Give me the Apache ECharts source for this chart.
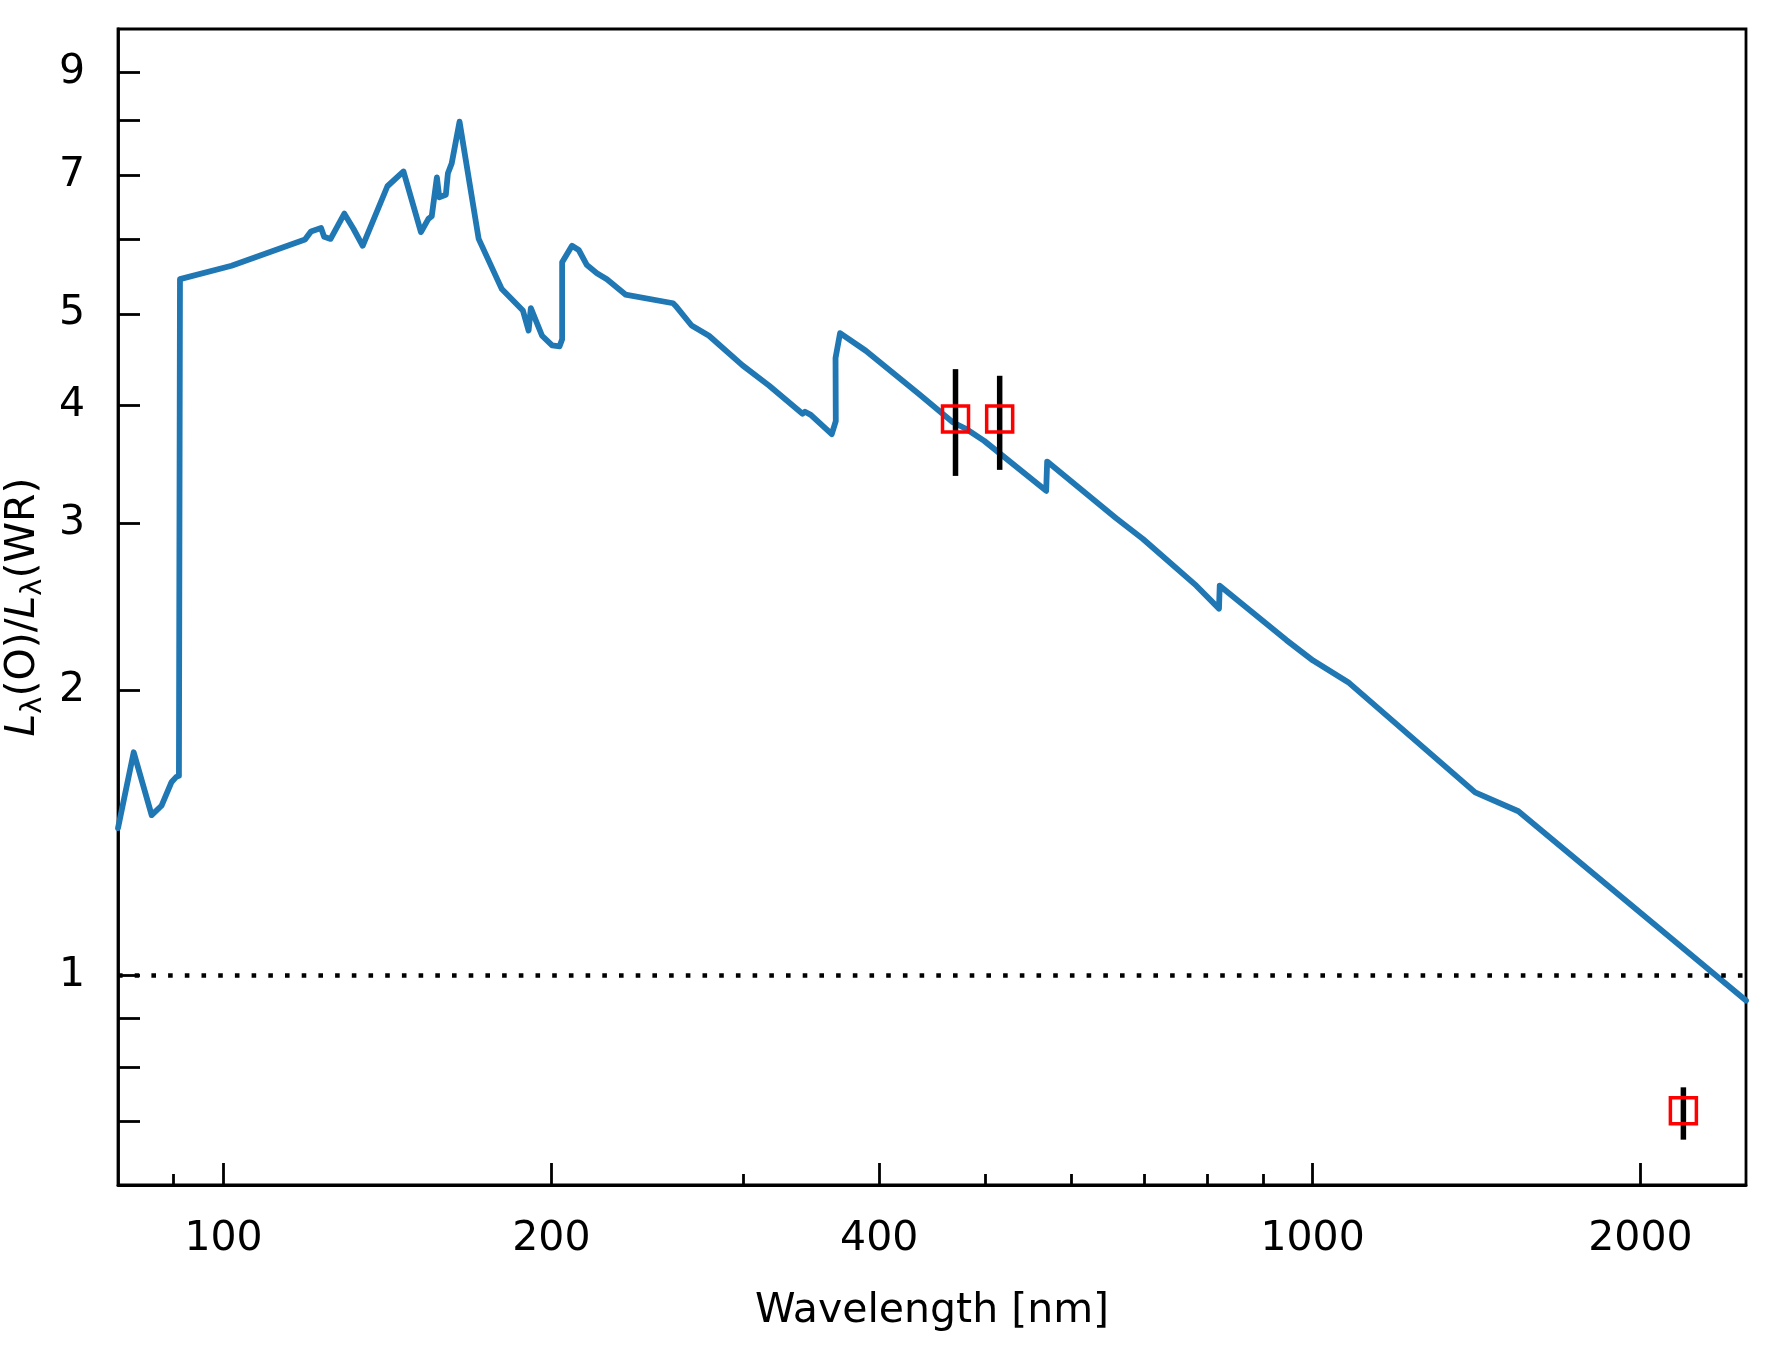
<!DOCTYPE html>
<html>
<head>
<meta charset="utf-8">
<script src="https://cdn.jsdelivr.net/npm/echarts@6/dist/echarts.min.js"></script>
<style>
  html, body { margin: 0; padding: 0; background: #fff; }
  #chart { width: 1776px; height: 1362px; }
</style>
</head>
<body>
<div id="chart"></div>
<script>
// 光度比曲线：波长 [nm] 与 L(O)/L(WR)
const wavelength = [80, 82.7, 85.9, 87.7, 89.6, 90.5, 91.0, 91.2, 101.7, 118.8, 120.3, 122.9, 123.7, 125.4,
  129.1, 131.6, 134.2, 141.4, 146.3, 151.8, 154.2, 155.3, 157.0, 157.8, 160.0, 160.7, 162.0, 164.7,
  171.5, 180.1, 188.3, 190.6, 191.5, 196.1, 200.3, 203.5, 204.6, 204.6, 208.9, 211.9, 215.6, 220.2,
  224.9, 233.9, 258.7, 260.0, 269.0, 279.1, 299.6, 316.8, 340.1, 341.9, 346.1, 361.8, 364.9, 364.7,
  368.2, 388.8, 435.3, 467.3, 480.4, 499.4, 569.3, 570.5, 660.1, 698.6, 782, 820.4, 821.7, 823.5,
  946, 1001, 1078, 1410, 1545, 2500]
const ratio = [1.43, 1.72, 1.476, 1.51, 1.60, 1.62, 1.624, 5.44, 5.62, 5.99, 6.11, 6.16, 6.03, 6.0,
  6.38, 6.15, 5.90, 6.82, 7.07, 6.10, 6.30, 6.34, 6.97, 6.64, 6.68, 7.04, 7.21, 7.98,
  6.0, 5.31, 5.04, 4.80, 5.07, 4.74, 4.63, 4.62, 4.70, 5.67, 5.90, 5.84, 5.63, 5.52,
  5.44, 5.24, 5.13, 5.10, 4.86, 4.74, 4.41, 4.20, 3.92, 3.94, 3.91, 3.73, 3.85, 4.49,
  4.77, 4.57, 4.11, 3.84, 3.78, 3.67, 3.25, 3.49, 3.04, 2.89, 2.58, 2.44, 2.58, 2.58,
  2.26, 2.15, 2.04, 1.56, 1.49, 0.94]

// 测光点及误差
const photWavelength = [470, 516, 2190]
const photRatio = [3.87, 3.87, 0.719]
const photLow = [3.37, 3.42, 0.670]
const photHigh = [4.37, 4.30, 0.761]

// 刻度
const xMajorTicks = [100, 200, 400, 1000, 2000]
const xMinorTicks = [90, 300, 500, 600, 700, 800, 900]
const yTicks = [0.7, 0.8, 0.9, 1, 2, 3, 4, 5, 6, 7, 8, 9]
const yLabels = [1, 2, 3, 4, 5, 7, 9]

const FONT = 'DejaVu Sans'
const chart = echarts.init(document.getElementById('chart'), null, { renderer: 'canvas' })

const lineData = wavelength.map((w, i) => [w, ratio[i]])
const photData = photWavelength.map((w, i) => [w, photRatio[i]])
const errData = photWavelength.map((w, i) => [w, photLow[i], photHigh[i]])

const option = {
  backgroundColor: '#fff',
  animation: false,
  grid: {
    left: 118,
    right: 30,
    top: 29,
    bottom: 177,
    containLabel: false,
    outerBoundsMode: 'none',
    show: true,
    borderColor: '#000',
    borderWidth: 2.8
  },
  xAxis: [
    {
      type: 'log',
      logBase: 10,
      min: 80,
      max: 2500,
      position: 'bottom',
      name: 'Wavelength [nm]',
      nameLocation: 'middle',
      nameGap: 106,
      nameTextStyle: { fontFamily: FONT, fontSize: 41, color: '#000' },
      axisLine: { show: true, lineStyle: { color: '#000', width: 2.8 } },
      axisTick: {
        show: true,
        inside: true,
        length: 22,
        customValues: xMajorTicks,
        lineStyle: { color: '#000', width: 2.8 }
      },
      minorTick: { show: false },
      axisLabel: {
        customValues: xMajorTicks,
        margin: 34,
        fontFamily: FONT,
        fontSize: 41,
        color: '#000',
        formatter: (v) => String(v)
      },
      splitLine: { show: false }
    },
    {
      // 次刻度
      type: 'log',
      logBase: 10,
      min: 80,
      max: 2500,
      position: 'bottom',
      axisLine: { show: false },
      axisTick: {
        show: true,
        inside: true,
        length: 11,
        customValues: xMinorTicks,
        lineStyle: { color: '#000', width: 2.8 }
      },
      axisLabel: { show: false },
      splitLine: { show: false }
    }
  ],
  yAxis: {
    type: 'log',
    logBase: 10,
    min: 0.6,
    max: 10,
    name: '{i|L}{s|λ}{n|(O)/}{i|L}{s|λ}{n|(WR)}',
    nameLocation: 'middle',
    nameRotate: 90,
    nameGap: 70,
    nameTextStyle: {
      fontFamily: FONT,
      fontSize: 41,
      color: '#000',
      rich: {
        i: { fontFamily: FONT, fontSize: 41, fontStyle: 'italic', color: '#000', lineHeight: 50 },
        n: { fontFamily: FONT, fontSize: 41, color: '#000', lineHeight: 50 },
        s: { fontFamily: FONT, fontSize: 29, color: '#000', lineHeight: 50, verticalAlign: 'bottom' }
      }
    },
    axisLine: { show: true, lineStyle: { color: '#000', width: 2.8 } },
    axisTick: {
      show: true,
      inside: true,
      length: 22,
      customValues: yTicks,
      lineStyle: { color: '#000', width: 2.8 }
    },
    minorTick: { show: false },
    axisLabel: {
      customValues: yLabels,
      margin: 33,
      padding: [12, 0, 0, 0],
      fontFamily: FONT,
      fontSize: 41,
      color: '#000',
      formatter: (v) => String(v)
    },
    splitLine: { show: false }
  },
  series: [
    {
      type: 'line',
      data: lineData,
      showSymbol: false,
      symbol: 'none',
      lineStyle: { color: '#1f77b4', width: 5.8, join: 'round', cap: 'round' },
      z: 2,
      markLine: {
        silent: true,
        symbol: 'none',
        label: { show: false },
        lineStyle: { color: '#000', width: 4.6, type: [4.6, 12.1], cap: 'butt' },
        data: [{ yAxis: 1 }],
        z: 5
      }
    },
    {
      // 误差棒
      type: 'custom',
      data: errData,
      z: 6,
      renderItem: (params, api) => {
        const top = api.coord([api.value(0), api.value(2)])
        const bottom = api.coord([api.value(0), api.value(1)])
        return {
          type: 'line',
          shape: { x1: top[0], y1: top[1], x2: bottom[0], y2: bottom[1] },
          style: { stroke: '#000', lineWidth: 5.5 }
        }
      }
    },
    {
      type: 'scatter',
      data: photData,
      symbol: 'rect',
      symbolSize: 26,
      z: 7,
      itemStyle: { color: 'rgba(0,0,0,0)', borderColor: '#ff0000', borderWidth: 3.5, opacity: 1 }
    }
  ]
}

chart.setOption(option)
</script>
</body>
</html>
